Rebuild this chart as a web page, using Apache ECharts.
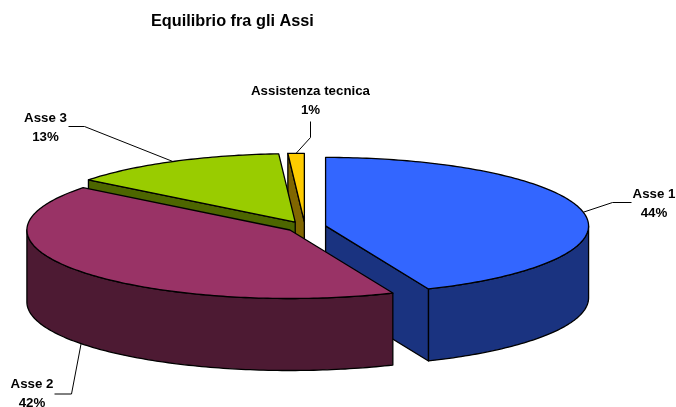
<!DOCTYPE html>
<html>
<head>
<meta charset="utf-8">
<style>
  html, body { margin: 0; padding: 0; background: #fff; }
  #chart { width: 676px; height: 407px; }
</style>
<script src="https://cdn.jsdelivr.net/npm/echarts@6/dist/echarts.min.js"></script>
</head>
<body>
<div id="chart"></div>
<script>
const categories = ['Asse 1', 'Asse 2', 'Asse 3', 'Assistenza tecnica']
const values = [43.6, 42.0, 13.4, 1.0]

const topColors = ['#3366FF', '#993366', '#99CC00', '#FFCC00']
const wallColors = ['#1A3380', '#4D1A33', '#4D6600', '#806600']

// pie geometry in pixels
const cx = 305
const cy = 227
const rx = 263
const ry = 68.5
const depth = 72
const explode = [21, 19, 21, 20]
// back slices first, the maroon one overlaps everything
const paintOrder = [3, 2, 0, 1]

// leader elbow, leader end and centre of the two label lines
const labelLayout = [
  { elbow: [612.5, 202.5], end: [631.5, 202.5], x: 654, y: 203.5 },
  { elbow: [71.5, 394], end: [54.5, 394], x: 32, y: 394 },
  { elbow: [84.5, 126.5], end: [68.5, 126.5], x: 45.5, y: 127.5 },
  { elbow: [310.5, 137.5], end: [310.5, 121.5], x: 310.5, y: 100.5 }
]

const total = values.reduce((a, b) => a + b, 0)
const toRad = Math.PI / 180
const slices = []
let acc = 0
values.forEach((v, i) => {
  const start = acc / total * 360
  acc += v
  const end = acc / total * 360
  const mid = (start + end) / 2
  slices.push({
    start,
    end,
    mid,
    ox: cx + explode[i] * Math.sin(mid * toRad),
    oy: cy - explode[i] * Math.cos(mid * toRad) * ry / rx
  })
})

function rimPoint(s, deg, drop) {
  return [s.ox + rx * Math.sin(deg * toRad), s.oy - ry * Math.cos(deg * toRad) + drop]
}

function arcPoints(s, from, to, drop) {
  const pts = []
  const n = Math.max(2, Math.ceil(to - from))
  for (let k = 0; k <= n; k++) {
    pts.push(rimPoint(s, from + (to - from) * k / n, drop))
  }
  return pts
}

function poly(points, fill) {
  return {
    type: 'polygon',
    shape: { points },
    style: { fill, stroke: '#000', lineWidth: 1.3, lineJoin: 'round' }
  }
}

function renderSlice(params, api) {
  const i = api.value(0)
  const s = slices[i]
  const children = []
  const centre = [s.ox, s.oy]
  const centreLow = [s.ox, s.oy + depth]

  // cut faces that look toward the viewer
  if (Math.sin(s.start * toRad) < -1e-6) {
    children.push(poly([centre, rimPoint(s, s.start, 0), rimPoint(s, s.start, depth), centreLow], wallColors[i]))
  }
  if (Math.sin(s.end * toRad) > 1e-6) {
    children.push(poly([centre, rimPoint(s, s.end, 0), rimPoint(s, s.end, depth), centreLow], wallColors[i]))
  }
  // outer wall, front half of the rim only
  const from = Math.max(s.start, 90)
  const to = Math.min(s.end, 270)
  if (to > from) {
    const upper = arcPoints(s, from, to, 0)
    const lower = arcPoints(s, from, to, depth).reverse()
    children.push(poly(upper.concat(lower), wallColors[i]))
  }
  // top face
  children.push(poly([centre].concat(arcPoints(s, s.start, s.end, 0)), topColors[i]))

  // leader and label
  const l = labelLayout[i]
  const front = s.mid > 90 && s.mid < 270
  children.push({
    type: 'polyline',
    shape: { points: [rimPoint(s, s.mid, front ? depth : 0), l.elbow, l.end] },
    style: { fill: 'none', stroke: '#000', lineWidth: 1 }
  })
  children.push({
    type: 'text',
    style: {
      x: l.x,
      y: l.y,
      text: categories[i] + '\n' + Math.round(api.value(1)) + '%',
      fill: '#000',
      font: 'bold 13.3px "Liberation Sans", Arial, sans-serif',
      lineHeight: 19,
      align: 'center',
      verticalAlign: 'middle'
    }
  })
  return { type: 'group', children }
}

const chart = echarts.init(document.getElementById('chart'), null, { renderer: 'canvas' })
chart.setOption({
  animation: false,
  title: {
    text: 'Equilibrio fra gli Assi',
    left: 151,
    top: 14,
    padding: 0,
    textStyle: {
      fontFamily: '"Liberation Sans", Arial, sans-serif',
      fontSize: 16.3,
      fontWeight: 'bold',
      color: '#000'
    }
  },
  series: [{
    type: 'custom',
    coordinateSystem: 'none',
    renderItem: renderSlice,
    data: paintOrder.map(i => [i, values[i]])
  }]
})
</script>
</body>
</html>
